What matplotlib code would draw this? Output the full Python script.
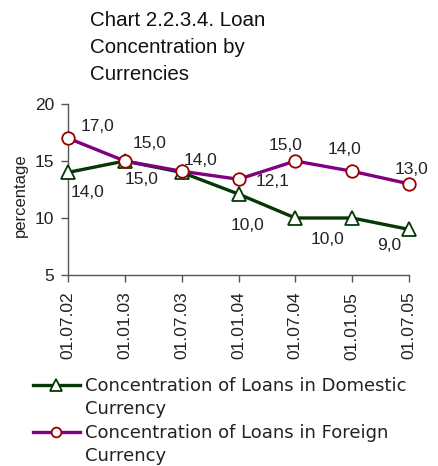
import matplotlib
matplotlib.use('Agg')
import matplotlib.pyplot as plt
from matplotlib.lines import Line2D

# data
dates = ['01.07.02', '01.01.03', '01.07.03', '01.01.04', '01.07.04', '01.01.05', '01.07.05']
domestic = [14.0, 15.0, 14.0, 12.1, 10.0, 10.0, 9.0]
foreign = [17.0, 15.0, 14.1, 13.4, 15.0, 14.1, 13.0]
domestic_labels = ['14,0', '15,0', None, '12,1', '10,0', '10,0', '9,0']
foreign_labels = ['17,0', '15,0', '14,0', None, '15,0', '14,0', '13,0']

name_dom = 'Concentration of Loans in Domestic'
name_for = 'Concentration of Loans in Foreign'
name_tail = 'Currency'
title = 'Chart 2.2.3.4. Loan\nConcentration by\nCurrencies'

# label offsets in pixels (where the labels sit in the picture)
dom_offsets = [(20, -20), (17, -19), None, (34, 13), (-48, -7), (-25, -22), (-20, -16)]
for_offsets = [(29, 12), (25, 17), (19, 11), None, (-10, 16), (-8, 22), (2, 14)]

GREEN = '#053805'
PURPLE = '#800080'
RED = '#990000'
FONT = 'Liberation Sans'

fig = plt.figure(figsize=(4.38, 4.66), dpi=100)
W, H = 438.0, 466.0
ax = fig.add_axes([68 / W, 1 - 275 / H, (409 - 68) / W, (275 - 104) / H])

x = list(range(len(dates)))
ax.plot(x, domestic, color=GREEN, lw=2.4, marker='^', ms=10, mfc='white',
        mec=GREEN, mew=1.3, clip_on=False, zorder=3)
ax.plot(x, foreign, color=PURPLE, lw=2.4, marker='o', ms=9, mfc='white',
        mec=RED, mew=1.3, clip_on=False, zorder=4)

for i in x:
    if domestic_labels[i] is not None:
        ax.annotate(domestic_labels[i], (i, domestic[i]), xytext=dom_offsets[i],
                    textcoords='offset pixels', ha='center', va='center',
                    fontsize=12.5, family=FONT, color='#222222')
    if foreign_labels[i] is not None:
        ax.annotate(foreign_labels[i], (i, foreign[i]), xytext=for_offsets[i],
                    textcoords='offset pixels', ha='center', va='center',
                    fontsize=12.5, family=FONT, color='#222222')

ax.set_xlim(0, 6)
ax.set_ylim(5, 20)
ax.set_yticks([5, 10, 15, 20])
ax.set_xticks(x)
ax.set_xticklabels(dates, rotation=90, fontsize=12.5, family=FONT, color='#222222')
for t in ax.get_yticklabels():
    t.set_fontsize(12.5)
    t.set_family(FONT)
    t.set_color('#222222')
ax.tick_params(axis='both', direction='out', length=5, width=1, color='#555555')
ax.tick_params(axis='x', pad=7)
ax.tick_params(axis='y', pad=5)
for s in ['top', 'right']:
    ax.spines[s].set_visible(False)
for s in ['left', 'bottom']:
    ax.spines[s].set_color('#555555')
    ax.spines[s].set_linewidth(1)

fig.text(20 / W, 1 - 195 / H, 'percentage', rotation=90, ha='center', va='center',
         fontsize=12, family=FONT, color='#222222')

fig.text(90 / W, 1 - 11 / H, title, ha='left', va='top', fontsize=14.8,
         family=FONT, color='#111111', linespacing=1.55)

# legend: first line beside the handle, second line under it
handles = [
    Line2D([], [], color=GREEN, lw=2.4, marker='^', ms=8, mfc='white', mec=GREEN, mew=1.3),
    Line2D([], [], color='none'),
    Line2D([], [], color=PURPLE, lw=2.4, marker='o', ms=7, mfc='white', mec=RED, mew=1.3),
    Line2D([], [], color='none'),
]
labels = [name_dom, name_tail, name_for, name_tail]
leg = fig.legend(handles, labels, loc='upper left', bbox_to_anchor=(33 / W, 1 - 377 / H),
                 frameon=False, handlelength=2.6, handletextpad=0.3, labelspacing=0.3,
                 borderpad=0, borderaxespad=0,
                 prop={'family': 'DejaVu Sans', 'size': 13})
for t in leg.get_texts():
    t.set_color('#222222')

fig.savefig('out.png', dpi=100)
